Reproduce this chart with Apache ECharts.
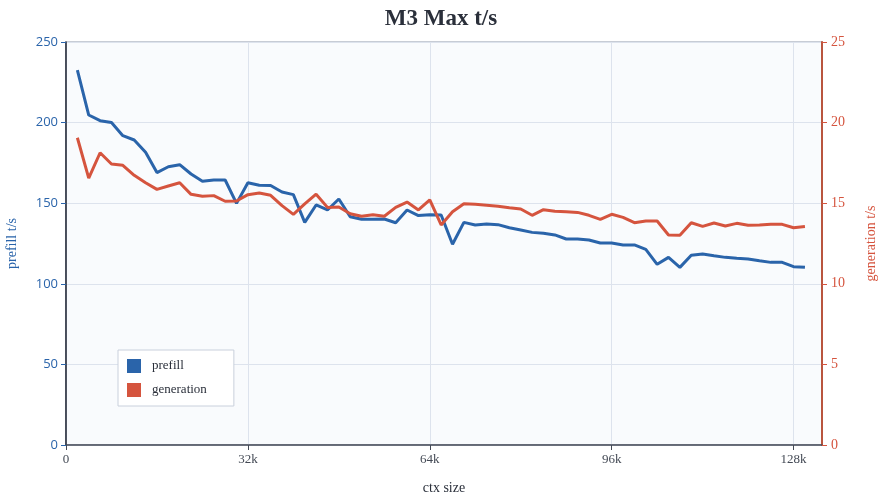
<!DOCTYPE html>
<html>
<head>
<meta charset="utf-8">
<script src="https://cdn.jsdelivr.net/npm/echarts@6/dist/echarts.min.js"></script>
<style>
  html, body { margin: 0; padding: 0; background: #fff; }
  #chart { width: 882px; height: 499px; }
</style>
</head>
<body>
<div id="chart"></div>
<script>
// context size in k tokens
var ctxSize = [2, 4, 6, 8, 10, 12, 14, 16, 18, 20, 22, 24, 26, 28, 30, 32, 34, 36, 38, 40,
    42, 44, 46, 48, 50, 52, 54, 56, 58, 60, 62, 64, 66, 68, 70, 72, 74, 76, 78, 80,
    82, 84, 86, 88, 90, 92, 94, 96, 98, 100, 102, 104, 106, 108, 110, 112, 114, 116, 118, 120,
    122, 124, 126, 128, 130];

var prefill = [232.6, 204.7, 201.2, 200.0, 191.9, 189.2, 181.6, 169.0, 172.6, 173.9,
    168.1, 163.6, 164.4, 164.4, 149.9, 162.7, 161.1, 161.0, 156.9, 155.3,
    138.1, 148.9, 145.8, 152.6, 141.6, 140.0, 140.0, 140.2, 137.9, 145.8,
    142.3, 142.9, 142.7, 124.5, 138.1, 136.5, 137.1, 136.7, 134.8, 133.4,
    131.9, 131.3, 130.3, 127.8, 127.8, 127.2, 125.3, 125.3, 124.1, 124.1,
    121.4, 112.1, 116.4, 110.2, 117.7, 118.5, 117.4, 116.4, 115.8, 115.4,
    114.3, 113.3, 113.3, 110.6, 110.2];

var generation = [19.06, 16.56, 18.13, 17.43, 17.35, 16.73, 16.27, 15.86, 16.07, 16.27,
    15.55, 15.43, 15.47, 15.12, 15.14, 15.53, 15.63, 15.49, 14.85, 14.31,
    14.96, 15.56, 14.74, 14.76, 14.35, 14.19, 14.29, 14.19, 14.74, 15.07,
    14.58, 15.2, 13.65, 14.47, 14.97, 14.93, 14.87, 14.81, 14.72, 14.64,
    14.25, 14.6, 14.5, 14.47, 14.43, 14.25, 14.0, 14.31, 14.12, 13.79,
    13.9, 13.9, 13.03, 13.01, 13.79, 13.56, 13.77, 13.59, 13.75, 13.63,
    13.65, 13.69, 13.69, 13.48, 13.56];

var blue = '#2a64aa';
var red = '#d5543e';
var serif = '"Liberation Serif", "DejaVu Serif", serif';

function pairs(xs, ys) {
    var out = [];
    for (var i = 0; i < xs.length; i++) {
        out.push([xs[i], ys[i]]);
    }
    return out;
}

var chart = echarts.init(document.getElementById('chart'));

var option = {
    backgroundColor: '#fff',
    animation: false,
    title: {
        text: 'M3 Max t/s',
        left: 'center',
        top: 3,
        textStyle: { fontFamily: serif, fontSize: 23, fontWeight: 'bold', color: '#2a2f3a' }
    },
    legend: {
        orient: 'vertical',
        left: 118,
        top: 350,
        padding: [9, 27, 9, 9],
        itemGap: 10,
        itemWidth: 14,
        itemHeight: 14,
        icon: 'rect',
        backgroundColor: '#fff',
        borderColor: '#c9d0dc',
        borderWidth: 1,
        textStyle: { fontFamily: serif, fontSize: 13, color: '#2a2f3a', padding: [0, 0, 0, 6] },
        data: ['prefill', 'generation']
    },
    grid: {
        left: 66,
        right: 60,
        top: 42,
        bottom: 54,
        outerBoundsMode: 'none',
        containLabel: false,
        show: true,
        backgroundColor: '#f9fbfd',
        borderColor: '#b5bcc8',
        borderWidth: 1.5
    },
    xAxis: {
        type: 'value',
        min: 0,
        max: 133,
        interval: 32,
        name: 'ctx size',
        nameLocation: 'middle',
        nameGap: 36,
        nameTextStyle: { fontFamily: serif, fontSize: 14, color: '#2a2f3a' },
        axisLine: { lineStyle: { color: '#444a55', width: 1.5 } },
        axisTick: { show: true, length: 5, lineStyle: { color: '#444a55' } },
        axisLabel: {
            fontFamily: serif, fontSize: 13, color: '#444a55', margin: 8,
            showMaxLabel: false,
            formatter: function (v) { return v === 0 ? '0' : (v % 32 === 0 ? v + 'k' : ''); }
        },
        splitLine: { show: true, lineStyle: { color: '#dde3ed', width: 1 } }
    },
    yAxis: [
        {
            type: 'value',
            min: 0,
            max: 250,
            interval: 50,
            position: 'left',
            name: 'prefill t/s',
            nameLocation: 'middle',
            nameGap: 47,
            nameTextStyle: { fontFamily: serif, fontSize: 14, color: blue },
            axisLine: { show: true, lineStyle: { color: '#1c2330', width: 1.5 } },
            axisTick: { show: true, length: 5, lineStyle: { color: blue } },
            axisLabel: { fontFamily: '"Open Sans", sans-serif', fontSize: 13, color: blue, margin: 8 },
            splitLine: { show: true, lineStyle: { color: '#dde3ed', width: 1 } }
        },
        {
            type: 'value',
            min: 0,
            max: 25,
            interval: 5,
            position: 'right',
            name: 'generation t/s',
            nameLocation: 'middle',
            nameGap: 42,
            nameRotate: 90,
            nameTextStyle: { fontFamily: serif, fontSize: 14, color: red },
            axisLine: { show: true, lineStyle: { color: '#b9553f', width: 2 } },
            axisTick: { show: true, length: 5, lineStyle: { color: red } },
            axisLabel: { fontFamily: serif, fontSize: 14, color: red, margin: 9 },
            splitLine: { show: false }
        }
    ],
    series: [
        {
            name: 'prefill',
            type: 'line',
            yAxisIndex: 0,
            data: pairs(ctxSize, prefill),
            showSymbol: false,
            itemStyle: { color: blue },
            lineStyle: { color: blue, width: 3 }
        },
        {
            name: 'generation',
            type: 'line',
            yAxisIndex: 1,
            data: pairs(ctxSize, generation),
            showSymbol: false,
            itemStyle: { color: red },
            lineStyle: { color: red, width: 3 }
        }
    ]
};

chart.setOption(option);
</script>
</body>
</html>
